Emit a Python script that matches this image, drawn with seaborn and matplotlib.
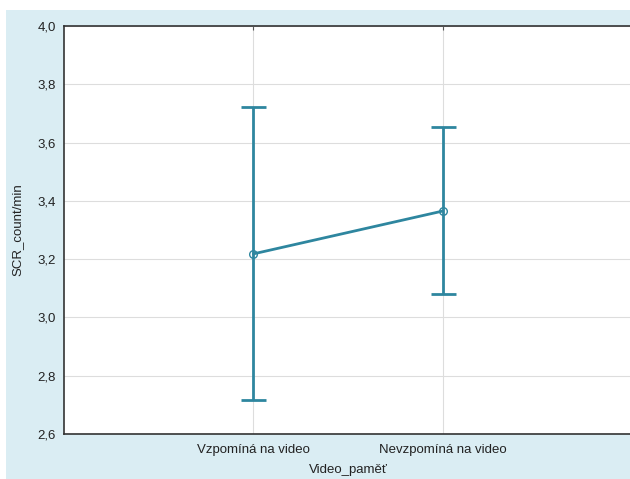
import matplotlib
matplotlib.use("Agg")
import matplotlib.pyplot as plt
import matplotlib.ticker as mticker
from matplotlib.patches import Rectangle
import seaborn as sns
import pandas as pd
import numpy as np

categories = ["Vzpomíná na video", "Nevzpomíná na video"]
means = [3.218, 3.365]
lower = [2.717, 3.080]
upper = [3.722, 3.653]
yticks = [2.6, 2.8, 3.0, 3.2, 3.4, 3.6, 3.8, 4.0]

sns.set_style("white")
plt.rcParams['font.family'] = ['Liberation Sans', 'DejaVu Sans']

color = "#2e869f"
df = pd.DataFrame({"Video_paměť": categories, "SCR_count/min": means})

fig = plt.figure(figsize=(6.3, 4.79), dpi=100, facecolor="white")
fig.patches.append(Rectangle((6/630, 0), 1, 1 - 10/479, transform=fig.transFigure,
                             facecolor="#daedf3", edgecolor="none", zorder=-10))
ax = fig.add_axes([64/630, 1 - 434/479, (632 - 64)/630, (434 - 26)/479])
ax.set_zorder(1)
ax.set_facecolor("white")

sns.pointplot(data=df, x="Video_paměť", y="SCR_count/min", order=categories,
              color=color, errorbar=None, markers="o", linewidth=2,
              markersize=5, ax=ax)
for coll in ax.collections:
    coll.set_facecolor("none")
    coll.set_edgecolor(color)
for ln in ax.lines:
    ln.set_markerfacecolor("none")
    ln.set_markeredgecolor(color)
    ln.set_markeredgewidth(1.0)
    ln.set_markersize(5.5)
    ln.set_zorder(4)

xs = np.arange(len(categories))
m = np.array(means)
ax.errorbar(xs, m, yerr=[m - np.array(lower), np.array(upper) - m], fmt="none",
            ecolor=color, elinewidth=2, capsize=9, capthick=2, zorder=3)

ax.set_xlim(-1, 2)
ax.set_ylim(2.6, 4.0)
ax.set_yticks(yticks)
ax.yaxis.set_major_formatter(mticker.FuncFormatter(lambda v, p: f"{v:.1f}".replace(".", ",")))
ax.set_xticks(xs)
ax.set_xticklabels(categories)
ax.grid(True, color="#dddddd", linewidth=0.8)
ax.set_axisbelow(True)

for s in ["left", "bottom", "top"]:
    ax.spines[s].set_visible(True)
    ax.spines[s].set_color("#333333")
    ax.spines[s].set_linewidth(1.2)
ax.spines["right"].set_visible(False)

ax.tick_params(axis="y", direction="out", length=3, width=0.8, color="#333333",
               labelsize=9.5, labelcolor="#222222", pad=3)
ax.tick_params(axis="x", direction="in", length=3, width=0.8, color="#555555",
               labelsize=9.5, labelcolor="#222222", pad=7, top=True)
ax.set_xlabel("Video_paměť", fontsize=9.5, color="#222222", labelpad=6)
ax.set_ylabel("SCR_count/min", fontsize=9.5, color="#222222", labelpad=10)

fig.savefig("out.png", dpi=100, facecolor=fig.get_facecolor())
